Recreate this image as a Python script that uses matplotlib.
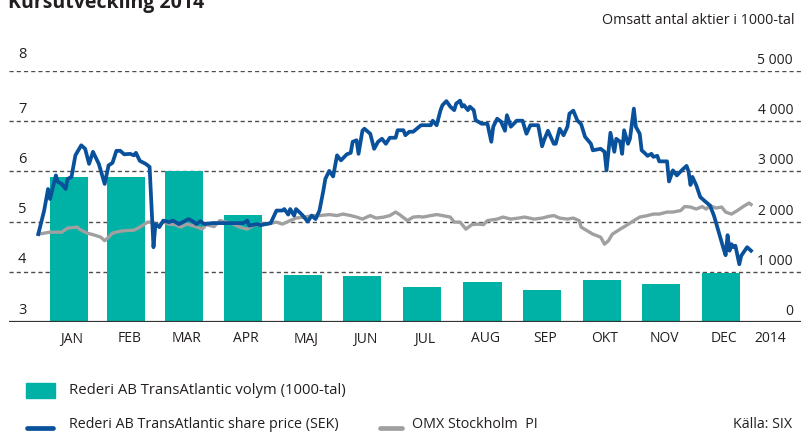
import matplotlib
matplotlib.use("Agg")
import matplotlib.pyplot as plt
import matplotlib.transforms as mtransforms

# ---------------- data ----------------
months = ["JAN", "FEB", "MAR", "APR", "MAJ", "JUN", "JUL", "AUG", "SEP", "OKT", "NOV", "DEC"]
month_days = [31, 28, 31, 30, 31, 30, 31, 31, 30, 31, 30, 31]
volume = [2890, 2880, 3000, 2130, 930, 910, 690, 790, 630, 830, 750, 970]

price_day = [0, 3, 5, 6, 9, 10, 12, 14, 15, 17, 19, 22, 24, 26, 28, 31, 34, 36, 38, 40,
             42, 44, 47, 49, 50, 52, 55, 57, 59, 60, 62, 64, 67, 69, 72, 74, 77, 79, 81, 83,
             85, 89, 98, 105, 107, 108, 112, 114, 119, 122, 125, 126, 128, 129, 131, 132, 135, 138, 140, 142,
             144, 146, 147, 149, 151, 153, 155, 158, 160, 161, 163, 164, 166, 167, 170, 172, 174, 176, 178, 180,
             183, 184, 187, 188, 190, 192, 196, 201, 202, 204, 206, 207, 209, 211, 213, 214, 216, 217, 218, 220,
             221, 223, 224, 227, 230, 232, 233, 235, 237, 239, 240, 242, 245, 248, 250, 252, 256, 258, 259, 261,
             264, 265, 267, 269, 271, 272, 274, 276, 278, 280, 283, 284, 288, 290, 291, 293, 295, 296, 298, 299,
             300, 302, 303, 305, 306, 308, 309, 311, 312, 314, 315, 317, 318, 322, 323, 325, 327, 330, 332, 333,
             334, 335, 337, 339, 341, 344, 346, 347, 349, 351, 352, 353, 354, 355, 356, 357, 359, 360, 363, 365]
price_sek = [4.75, 5.22, 5.65, 5.45, 5.92, 5.79, 5.75, 5.65, 5.85, 5.89, 6.32, 6.52, 6.45, 6.15, 6.39, 6.15, 5.75, 6.12, 6.17, 6.41,
             6.41, 6.34, 6.35, 6.32, 6.37, 6.21, 6.15, 6.09, 4.49, 4.95, 4.89, 5.02, 4.99, 5.02, 4.95, 4.99, 5.05, 5.01, 4.95, 5.01,
             4.95, 4.97, 4.97, 4.97, 5.02, 4.92, 4.95, 4.93, 4.97, 5.22, 5.22, 5.25, 5.14, 5.25, 5.12, 5.25, 5.14, 5.00, 5.12, 5.05,
             5.22, 5.62, 5.85, 6.01, 5.90, 6.32, 6.22, 6.34, 6.37, 6.59, 6.62, 6.35, 6.81, 6.85, 6.75, 6.45, 6.59, 6.65, 6.55, 6.67,
             6.67, 6.82, 6.82, 6.72, 6.79, 6.79, 6.92, 6.92, 7.01, 6.92, 7.22, 7.32, 7.40, 7.29, 7.22, 7.35, 7.41, 7.29, 7.32, 7.22,
             7.29, 7.22, 7.02, 6.95, 6.95, 6.59, 6.89, 7.05, 6.99, 6.81, 7.12, 6.89, 7.01, 7.01, 6.75, 6.92, 6.92, 6.50, 6.62, 6.81,
             6.55, 6.55, 6.85, 6.72, 6.89, 7.15, 7.21, 7.02, 6.94, 6.69, 6.55, 6.42, 6.45, 6.39, 6.02, 6.77, 6.39, 6.65, 6.59, 6.35,
             6.82, 6.55, 6.65, 7.25, 6.89, 6.75, 6.42, 6.35, 6.31, 6.35, 6.29, 6.31, 6.20, 6.20, 5.80, 6.02, 5.92, 6.04, 6.11, 6.00,
             5.73, 5.89, 5.72, 5.49, 5.42, 5.32, 5.12, 4.99, 4.72, 4.45, 4.33, 4.73, 4.42, 4.55, 4.49, 4.52, 4.15, 4.32, 4.49, 4.42]

omx_day = [0, 6, 12, 15, 20, 21, 25, 28, 32, 34, 36, 38, 42, 45, 49, 52, 56, 59, 61, 64,
           67, 70, 73, 76, 79, 84, 86, 90, 93, 96, 100, 103, 107, 110, 114, 117, 122, 125, 129, 132,
           136, 141, 144, 149, 153, 156, 160, 163, 166, 170, 173, 177, 180, 183, 185, 189, 192, 195, 197, 201,
           204, 207, 211, 213, 216, 219, 222, 225, 228, 230, 235, 238, 242, 246, 249, 254, 258, 261, 264, 267,
           271, 274, 277, 278, 281, 284, 288, 290, 292, 294, 298, 301, 305, 308, 312, 315, 318, 322, 325, 329,
           331, 334, 337, 340, 342, 344, 347, 350, 352, 355, 358, 361, 364, 365]
omx_level = [4.75, 4.79, 4.79, 4.87, 4.89, 4.85, 4.77, 4.74, 4.69, 4.62, 4.69, 4.77, 4.81, 4.82, 4.83, 4.89, 4.99, 4.99, 4.92, 4.99,
             4.95, 4.94, 4.89, 4.95, 4.92, 4.85, 4.94, 4.90, 5.02, 4.99, 4.95, 4.89, 4.85, 4.92, 4.95, 4.95, 4.99, 4.95, 5.02, 5.07,
             5.09, 5.12, 5.12, 5.14, 5.12, 5.15, 5.12, 5.09, 5.05, 5.12, 5.07, 5.09, 5.12, 5.19, 5.14, 5.02, 5.09, 5.10, 5.09, 5.12,
             5.14, 5.12, 5.09, 4.99, 4.99, 4.85, 4.94, 4.95, 4.94, 5.02, 5.05, 5.09, 5.05, 5.07, 5.09, 5.05, 5.07, 5.10, 5.12, 5.07,
             5.05, 5.07, 5.02, 4.89, 4.82, 4.75, 4.69, 4.55, 4.62, 4.75, 4.85, 4.92, 5.02, 5.09, 5.12, 5.15, 5.15, 5.19, 5.19, 5.22,
             5.30, 5.29, 5.25, 5.30, 5.25, 5.32, 5.27, 5.29, 5.19, 5.15, 5.22, 5.30, 5.37, 5.34]

left_ticks = [3, 4, 5, 6, 7, 8]
right_ticks = [0, 1000, 2000, 3000, 4000, 5000]
right_tick_labels = ["0", "1 000", "2 000", "3 000", "4 000", "5 000"]

TEAL = "#00b1a6"
BLUE = "#0a519c"
GREY = "#a0a0a0"
TXT = "#231f20"

plt.rcParams["font.family"] = ["Open Sans", "DejaVu Sans"]

W, H = 801, 432
fig = plt.figure(figsize=(W / 100, H / 100), dpi=100)

def fx(px):
    return px / W

def fy(py):
    return 1 - py / H

ax_left, ax_right = 9, 801
ax_top, ax_bot = 71.0, 322
ax2 = fig.add_axes([fx(ax_left), fy(ax_bot), fx(ax_right - ax_left), fy(ax_top) - fy(ax_bot)])
ax = fig.add_axes(ax2.get_position(), sharex=ax2)
ax.patch.set_visible(False)
for a in (ax, ax2):
    for s in a.spines.values():
        s.set_visible(False)
    a.set_xticks([])
    a.set_yticks([])

xmin, xmax = -15.0, 390.6
ax2.set_xlim(xmin, xmax)
ax.set_ylim(3, 8)
ax2.set_ylim(0, 5000)

# month centres
starts = [sum(month_days[:i]) for i in range(12)]
centres = [s + d / 2 for s, d in zip(starts, month_days)]

# grid lines
for v in left_ticks[1:]:
    ax2.axhline((v - 3) * 1000, color="#4d4d4d", lw=1.0, ls=(0, (3, 2.2)), zorder=0)
ax2.axhline(0, color="#333333", lw=1.6, zorder=3)

ax2.bar(centres, volume, width=19.5, color=TEAL, zorder=2)

ax.plot(omx_day, omx_level, color=GREY, lw=2.4, zorder=4, solid_joinstyle="round")
ax.plot(price_day, price_sek, color=BLUE, lw=2.7, zorder=5, solid_joinstyle="round")

# tick labels
tr = mtransforms.blended_transform_factory(ax.transAxes, ax.transData)
for v in left_ticks:
    dy = 17 if v == 8 else 12
    off = mtransforms.ScaledTranslation(0, dy / 100, fig.dpi_scale_trans)
    ax.text((18 - ax_left) / (ax_right - ax_left), v, str(v), transform=tr + off,
            ha="left", va="center", fontsize=10.5, color=TXT)
tr2 = mtransforms.blended_transform_factory(ax2.transAxes, ax2.transData)
off2 = mtransforms.ScaledTranslation(0, 10.5 / 100, fig.dpi_scale_trans)
for v, lab in zip(right_ticks, right_tick_labels):
    ax2.text((793 - ax_left) / (ax_right - ax_left), v, lab, transform=tr2 + off2,
             ha="right", va="center", fontsize=10, color=TXT)

trm = mtransforms.blended_transform_factory(ax2.transData, fig.transFigure)
for c, m in zip(centres, months):
    ax2.text(c + 1.5, fy(339), m, transform=trm, ha="center", va="center",
             fontsize=10, color=TXT)
ax2.text(374.6, fy(339), "2014", transform=trm, ha="center", va="center",
         fontsize=10, color=TXT)

# titles
fig.text(fx(8), fy(8), "Kursutveckling 2014", ha="left", va="baseline",
         fontsize=14, fontweight="bold", color=TXT)
fig.text(fx(795), fy(21), "Omsatt antal aktier i 1000-tal", ha="right", va="center",
         fontsize=10.3, color=TXT)

# legend
fig.patches.append(plt.Rectangle((fx(25.5), fy(398)), fx(29), fy(383) - fy(398),
                                 transform=fig.transFigure, color=TEAL))
fig.text(fx(69), fy(391), "Rederi AB TransAtlantic volym (1000-tal)", ha="left", va="center",
         fontsize=10.7, color=TXT)
fig.lines.append(plt.Line2D([fx(27), fx(53)], [fy(427.5), fy(427.5)], transform=fig.transFigure,
                            color=BLUE, lw=3.4, solid_capstyle="round"))
fig.text(fx(69), fy(425), "Rederi AB TransAtlantic share price (SEK)", ha="left", va="center",
         fontsize=10.3, color=TXT)
fig.lines.append(plt.Line2D([fx(380), fx(402)], [fy(427.5), fy(427.5)], transform=fig.transFigure,
                            color=GREY, lw=3.4, solid_capstyle="round"))
fig.text(fx(412), fy(425), "OMX Stockholm  PI", ha="left", va="center",
         fontsize=10.3, color=TXT)
fig.text(fx(792), fy(425), "Källa: SIX", ha="right", va="center",
         fontsize=10.3, color=TXT)

fig.savefig("out.png", dpi=100)
